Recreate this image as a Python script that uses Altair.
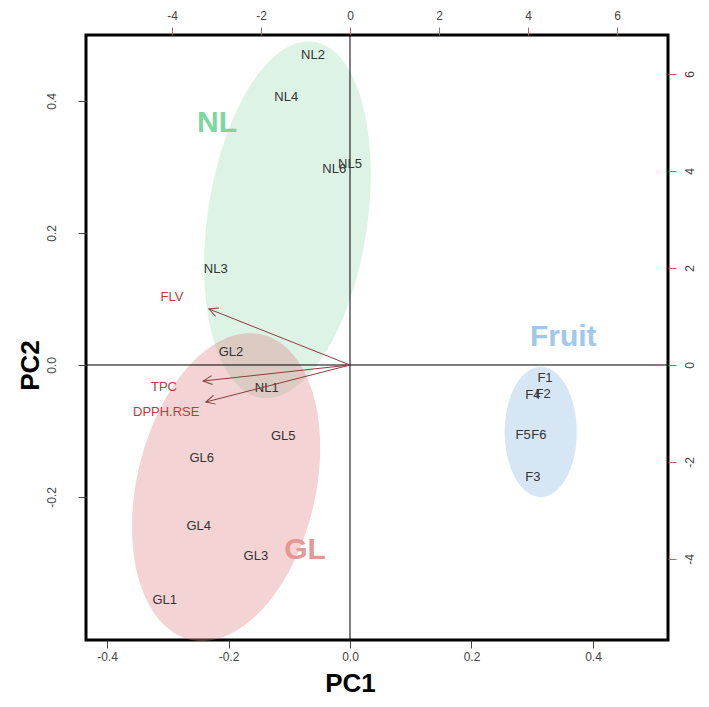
import math
import numpy as np
import pandas as pd
import altair as alt

FONT = "Liberation Sans"

# ---- sample scores (PC1, PC2) ----
samples = ["NL1", "NL2", "NL3", "NL4", "NL5", "NL6",
           "GL1", "GL2", "GL3", "GL4", "GL5", "GL6",
           "F1", "F2", "F3", "F4", "F5", "F6"]
pc1 = [-0.137, -0.061, -0.221, -0.105, 0.000, -0.026,
       -0.305, -0.196, -0.155, -0.249, -0.110, -0.244,
       0.321, 0.318, 0.301, 0.301, 0.285, 0.311]
pc2 = [-0.035, 0.470, 0.146, 0.406, 0.305, 0.297,
       -0.356, 0.020, -0.289, -0.244, -0.108, -0.141,
       -0.020, -0.044, -0.170, -0.046, -0.106, -0.106]

# ---- variable loadings (secondary axes) ----
variables = ["FLV", "TPC", "DPPH.RSE"]
arrow_x = [-3.17, -3.30, -3.24]
arrow_y = [1.155, -0.33, -0.763]
label_x = [-4.00, -4.18, -4.13]
label_y = [1.40, -0.45, -0.96]

# ---- group ellipses (centre, half major axis vector, half minor axis vector) ----
groups = ["NL", "GL", "Fruit"]
ell_cx = [-0.103, -0.204, 0.314]
ell_cy = [0.220, -0.185, -0.1015]
ell_ax = [0.0436, 0.0593, 0.0]
ell_ay = [0.2697, 0.2311, 0.0985]
ell_bx = [0.1300, 0.1430, 0.0593]
ell_by = [-0.0178, -0.0311, 0.0]
fill_colors = ["#8ad7ac", "#dd8181", "#76acde"]
fill_opacity = [0.30, 0.35, 0.30]
group_label_x = [-0.219, -0.074, 0.351]
group_label_y = [0.367, -0.280, 0.042]
group_label_colors = ["#7dd6a0", "#e69696", "#a0c8eb"]

# ---- axes ----
x1_dom = [-0.4346, 0.5235]
y1_dom = [-0.4167, 0.5]
x2_dom = [-5.933, 7.146]
y2_dom = [-5.670, 6.804]
x1_ticks = [-0.4, -0.2, 0.0, 0.2, 0.4]
y1_ticks = [-0.2, 0.0, 0.2, 0.4]
x2_ticks = [-4, -2, 0, 2, 4, 6]
y2_ticks = [-4, -2, 0, 2, 4, 6]

W, H = 582, 605


def ellipse_band(cx, cy, ax, ay, bx, by, n=240):
    M = np.array([[ax, bx], [ay, by]])
    S = M @ M.T
    Q = np.linalg.inv(S)
    xext = math.sqrt(S[0, 0])
    s = np.linspace(0, math.pi, n)
    dx = -xext * np.cos(s)
    disc = Q[0, 1] ** 2 * dx ** 2 - Q[1, 1] * (Q[0, 0] * dx ** 2 - 1)
    disc = np.clip(disc, 0, None)
    yt = (-Q[0, 1] * dx + np.sqrt(disc)) / Q[1, 1]
    yb = (-Q[0, 1] * dx - np.sqrt(disc)) / Q[1, 1]
    return cx + dx, cy + yt, cy + yb


ell_frames = []
for i, g in enumerate(groups):
    ex, et, eb = ellipse_band(ell_cx[i], ell_cy[i], ell_ax[i], ell_ay[i], ell_bx[i], ell_by[i])
    ell_frames.append(pd.DataFrame({"group": g, "x": ex, "y": et, "y2": eb}))
ell_df = pd.concat(ell_frames, ignore_index=True)

sample_df = pd.DataFrame({"name": samples, "pc1": pc1, "pc2": pc2})
grp_df = pd.DataFrame({"name": groups, "x": group_label_x, "y": group_label_y,
                       "c": group_label_colors})

sx2 = W / (x2_dom[1] - x2_dom[0])
sy2 = H / (y2_dom[1] - y2_dom[0])
angles = [(math.degrees(math.atan2(-ay * sy2, ax * sx2)) + 360) % 360
          for ax, ay in zip(arrow_x, arrow_y)]
var_df = pd.DataFrame({"name": variables, "x0": 0.0, "y0": 0.0,
                       "xt": arrow_x, "yt": arrow_y,
                       "lx": label_x, "ly": label_y, "ang": angles})

minus_fix = "replace(datum.label, '\u2212', '-')"

x1_scale = alt.Scale(domain=x1_dom, nice=False, zero=False)
y1_scale = alt.Scale(domain=y1_dom, nice=False, zero=False)
x2_scale = alt.Scale(domain=x2_dom, nice=False, zero=False)
y2_scale = alt.Scale(domain=y2_dom, nice=False, zero=False)

x1_axis = alt.Axis(orient="bottom", values=x1_ticks, format=".1f", labelExpr=minus_fix,
                   domain=False, grid=False, tickSize=8, tickColor="#444",
                   labelColor="#444", labelFontSize=12, labelFont=FONT, labelPadding=3,
                   title="PC1", titleFont=FONT, titleFontSize=26, titleFontWeight="bold",
                   titleColor="black", titleX=264, titleY=43, titleAlign="center",
                   titleBaseline="middle")
y1_axis = alt.Axis(orient="left", values=y1_ticks, format=".1f", labelExpr=minus_fix,
                   domain=False, grid=False, tickSize=8, tickColor="#444",
                   labelColor="#444", labelFontSize=12, labelFont=FONT, labelPadding=20,
                   labelAngle=270, labelAlign="center", labelBaseline="bottom",
                   title="PC2", titleFont=FONT, titleFontSize=26, titleFontWeight="bold",
                   titleColor="black", titleX=-56, titleY=330, titleAngle=270,
                   titleAlign="center", titleBaseline="middle")
x2_axis = alt.Axis(orient="top", values=x2_ticks, format="d", labelExpr=minus_fix,
                   domain=False, grid=False, tickSize=8, tickColor="#c06060",
                   labelColor="#444", labelFontSize=12, labelFont=FONT, labelPadding=5,
                   title=None)
y2_axis = alt.Axis(orient="right", values=y2_ticks, format="d", labelExpr=minus_fix,
                   domain=False, grid=False, tickSize=8, tickColor="#c06060",
                   labelColor="#444", labelFontSize=12, labelFont=FONT, labelPadding=8,
                   labelAngle=270, labelAlign="center", labelBaseline="top",
                   title=None)

# ---- primary layer ----
ell_layers = []
for g in ["NL", "Fruit", "GL"]:
    k = groups.index(g)
    ell_layers.append(
        alt.Chart(ell_df).transform_filter(alt.datum.group == g)
        .mark_area(orient="vertical", color=fill_colors[k], opacity=fill_opacity[k])
        .encode(x=alt.X("x:Q", scale=x1_scale, axis=x1_axis),
                y=alt.Y("y:Q", scale=y1_scale, axis=y1_axis),
                y2="y2:Q")
    )

zero_df = pd.DataFrame({"v": [0.0]})
vline = alt.Chart(zero_df).mark_rule(color="black", strokeWidth=1).encode(
    x=alt.X("v:Q", scale=x1_scale, axis=x1_axis))
hline = alt.Chart(zero_df).mark_rule(color="black", strokeWidth=1).encode(
    y=alt.Y("v:Q", scale=y1_scale, axis=y1_axis))

sample_text = alt.Chart(sample_df).mark_text(
    font=FONT, fontSize=13, color="#333", align="center", baseline="middle"
).encode(x=alt.X("pc1:Q", scale=x1_scale, axis=x1_axis),
         y=alt.Y("pc2:Q", scale=y1_scale, axis=y1_axis),
         text="name:N")

group_text = alt.Chart(grp_df).mark_text(
    font=FONT, fontSize=30, fontWeight="bold", align="center", baseline="middle"
).encode(x=alt.X("x:Q", scale=x1_scale, axis=x1_axis),
         y=alt.Y("y:Q", scale=y1_scale, axis=y1_axis),
         text="name:N",
         color=alt.Color("c:N", scale=None))

primary = alt.layer(*ell_layers, vline, hline, sample_text, group_text)

# ---- secondary layer ----
arrows = alt.Chart(var_df).mark_rule(color="#8e3b3b", strokeWidth=1).encode(
    x=alt.X("x0:Q", scale=x2_scale, axis=x2_axis),
    y=alt.Y("y0:Q", scale=y2_scale, axis=y2_axis),
    x2="xt:Q", y2="yt:Q")
heads = alt.Chart(var_df).mark_point(
    shape="M -1 -0.5 L 0 0 L -1 0.5", size=324, filled=False,
    color="#8e3b3b", strokeWidth=1, opacity=1
).encode(x=alt.X("xt:Q", scale=x2_scale, axis=x2_axis),
         y=alt.Y("yt:Q", scale=y2_scale, axis=y2_axis),
         angle=alt.Angle("ang:Q", scale=None))
var_text = alt.Chart(var_df).mark_text(
    font=FONT, fontSize=13, color="#be3a3a", align="center", baseline="middle"
).encode(x=alt.X("lx:Q", scale=x2_scale, axis=x2_axis),
         y=alt.Y("ly:Q", scale=y2_scale, axis=y2_axis),
         text="name:N")

secondary = alt.layer(arrows, heads, var_text)

chart = alt.layer(primary, secondary).resolve_scale(
    x="independent", y="independent"
).properties(
    width=W, height=H,
    padding={"left": 78, "top": 27, "right": 33, "bottom": 59},
    autosize=alt.AutoSizeParams(type="none"),
).configure_view(stroke="black", strokeWidth=3)

chart.save("out.html", embed_options={"renderer": "svg", "actions": False})
